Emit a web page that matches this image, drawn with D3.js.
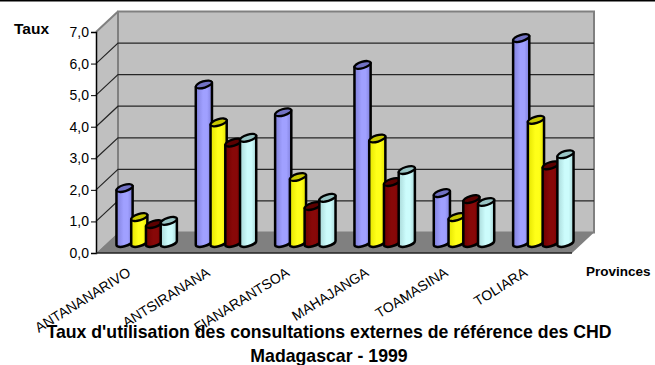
<!DOCTYPE html>
<html><head><meta charset="utf-8">
<style>html,body{margin:0;padding:0;background:#fff}svg{display:block}text{font-family:"Liberation Sans",Arial,sans-serif;fill:#000}</style>
<script src="https://cdn.jsdelivr.net/npm/d3@7/dist/d3.min.js"></script>
</head><body><svg id="c" width="655" height="365"></svg>
<script>
const categories=["ANTANANARIVO","ANTSIRANANA","FIANARANTSOA","MAHAJANGA","TOAMASINA","TOLIARA"];
const seriesA=[1.74,5.02,4.14,5.64,1.58,6.49];
const seriesB=[0.82,3.82,2.09,3.31,0.82,3.90];
const seriesC=[0.60,3.18,1.17,1.93,1.39,2.46];
const seriesD=[0.70,3.33,1.43,2.31,1.30,2.81];
const allSeries=[seriesA,seriesB,seriesC,seriesD];
const yTicks=[0,1,2,3,4,5,6,7];
const seriesColors=[
 {side:"#8080dc",mid:"#a0a0ff",top:"#7272c4"},
 {side:"#e4e400",mid:"#ffff18",top:"#c8c800"},
 {side:"#700000",mid:"#880808",top:"#5c0000"},
 {side:"#a8d8d8",mid:"#ccfcfc",top:"#98c4c4"}];
const svg=d3.select("#c");
const x0=96,x1=572,yBase=253,yTop=32,depthX=22,depthY=20.5;
const x=d3.scaleBand().domain(categories).range([x0,x1]);
const inner=d3.scaleBand().domain(d3.range(4)).range([-29.5,29.5]);
const y=d3.scaleLinear().domain([0,7]).range([yBase,yTop]);
const defs=svg.append("defs");
seriesColors.forEach((c,i)=>{
 const g=defs.append("linearGradient").attr("id","g"+i);
 [[0,c.side],[.45,c.mid],[.7,c.mid],[1,c.side]].forEach(s=>g.append("stop").attr("offset",s[0]).attr("stop-color",s[1]));
});
svg.append("rect").attr("x",0).attr("y",0).attr("width",655).attr("height",1.5).attr("fill","#000");
// walls
const bx0=x0+depthX,bx1=x1+depthX,by0=yBase-depthY,by1=yTop-depthY;
svg.append("polygon").attr("points",[[x0,yBase],[x0,yTop],[bx0,by1],[bx0,by0]].join(" ")).attr("fill","#c0c0c0");
svg.append("rect").attr("x",bx0).attr("y",by1).attr("width",bx1-bx0).attr("height",by0-by1).attr("fill","#c0c0c0").attr("stroke","#808080").attr("stroke-width",2);
svg.append("polygon").attr("points",[[x0,yBase],[x1,yBase],[bx1,by0],[bx0,by0]].join(" ")).attr("fill","#808080");
svg.append("polyline").attr("points",[[x0,yTop],[bx0,by1]].join(" ")).attr("fill","none").attr("stroke","#808080").attr("stroke-width",2);
svg.append("line").attr("x1",bx0).attr("x2",bx0).attr("y1",by1).attr("y2",by0).attr("stroke","#808080").attr("stroke-width",2);
// grid
yTicks.filter(t=>t>0&&t<7).forEach(t=>{
 svg.append("polyline").attr("points",[[x0,y(t)],[bx0,y(t)-depthY],[bx1,y(t)-depthY]].join(" ")).attr("fill","none").attr("stroke","#262626").attr("stroke-width",1.2);
});
// axes
const ax=svg.append("g").attr("transform",`translate(${x0},0)`).call(d3.axisLeft(y).tickValues(yTicks).tickSize(5).tickPadding(2).tickFormat(d=>d3.format(".1f")(d).replace(".",",")));
ax.selectAll("path").attr("stroke","#000").attr("stroke-width",1.5);
ax.selectAll("line").attr("stroke","#000").attr("stroke-width",1);
ax.selectAll("text").style("font-size","14px").style("font-family",'"Liberation Sans",Arial,sans-serif');
svg.append("line").attr("x1",x0).attr("x2",x1).attr("y1",yBase).attr("y2",yBase).attr("stroke","#222").attr("stroke-width",1.6);
// cylinders
const rx=8.4,ry=3.2,theta=17*Math.PI/180;
const floorOffset=10;
const ex=Math.sqrt(rx*rx*Math.cos(theta)**2+ry*ry*Math.sin(theta)**2);
const ey=(rx*rx-ry*ry)*Math.sin(theta)*Math.cos(theta)/ex;
categories.forEach(cat=>{
 const ci=categories.indexOf(cat);
 allSeries.forEach((vals,si)=>{
  const cx=x(cat)+x.bandwidth()/2+depthX/2+inner(si)+inner.bandwidth()/2;
  const topY=y(vals[ci])-floorOffset, baseY=yBase-floorOffset;
  const g=svg.append("g");
  g.append("path")
   .attr("d",`M${cx-ex},${topY+ey} L${cx-ex},${baseY+ey} A${rx},${ry} -17 0 0 ${cx+ex},${baseY-ey} L${cx+ex},${topY-ey} Z`)
   .attr("fill",`url(#g${si})`).attr("stroke","#000").attr("stroke-width",2.5).attr("stroke-linejoin","round");
  g.append("ellipse").attr("cx",cx).attr("cy",topY).attr("rx",rx).attr("ry",ry)
   .attr("transform",`rotate(-17 ${cx} ${topY})`)
   .attr("fill",seriesColors[si].top).attr("stroke","#000").attr("stroke-width",2.3);
 });
});
// labels
categories.forEach(cat=>{
 const lx=x(cat)+x.bandwidth()/2-4,ly=275;
 svg.append("text").attr("transform",`translate(${lx},${ly}) rotate(-32)`).attr("text-anchor","end").style("font-size","14px").text(cat);
});
svg.append("text").attr("x",14).attr("y",34).style("font-size","15.5px").style("font-weight","bold").text("Taux");
svg.append("text").attr("x",586).attr("y",276).style("font-size","13.5px").style("font-weight","bold").text("Provinces");
svg.append("text").attr("x",329).attr("y",338).attr("text-anchor","middle").style("font-size","17.7px").style("font-weight","bold").text("Taux d'utilisation des consultations externes de référence des CHD");
svg.append("text").attr("x",329).attr("y",362).attr("text-anchor","middle").style("font-size","17.7px").style("font-weight","bold").text("Madagascar - 1999");
</script></body></html>
